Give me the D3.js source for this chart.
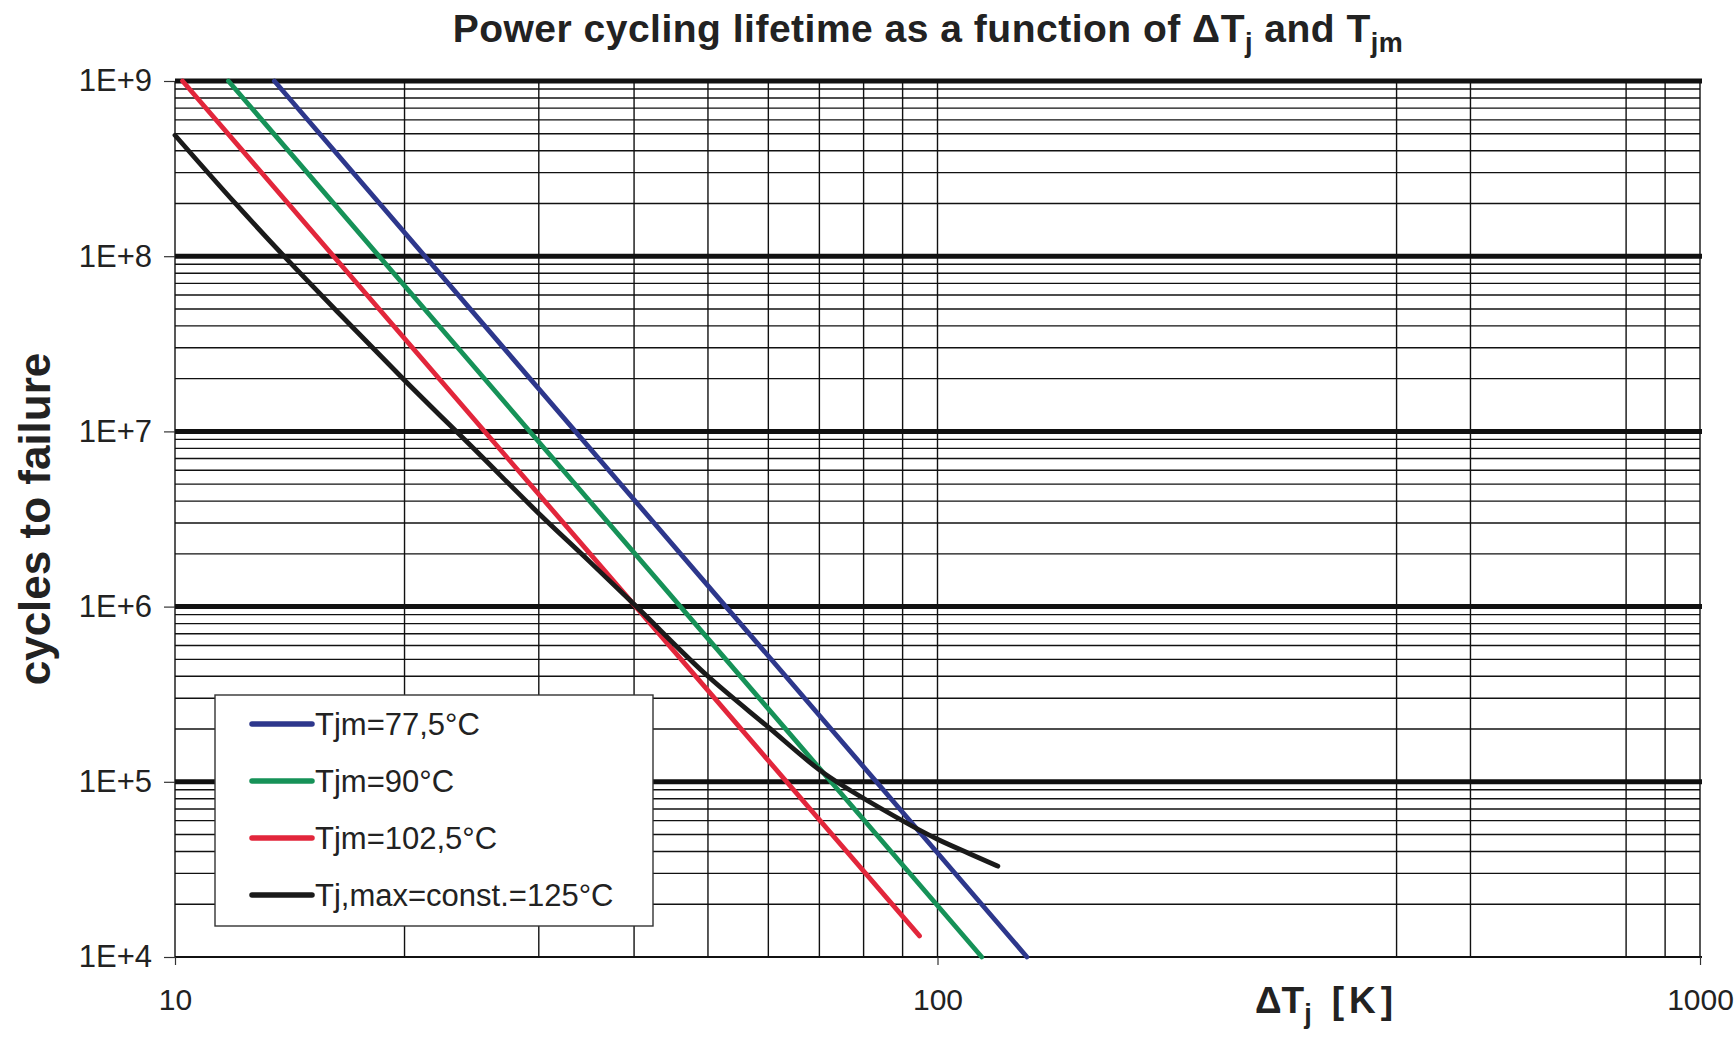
<!DOCTYPE html>
<html>
<head>
<meta charset="utf-8">
<script src="https://cdn.jsdelivr.net/npm/d3@7"></script>
<style>
  body { margin: 0; background: #fff; }
  text { font-family: "Liberation Sans", Arial, sans-serif; fill: #222; }
</style>
</head>
<body>
<svg id="chart" width="1735" height="1046"></svg>
<script>
// ---- data ----
var xTicks = [10, 100, 1000];
var xTickLabels = ["10", "100", "1000"];
var yTicks = [1e4, 1e5, 1e6, 1e7, 1e8, 1e9];
var yTickLabels = ["1E+4", "1E+5", "1E+6", "1E+7", "1E+8", "1E+9"];
// vertical grid lines that appear in the chart
var xGrid = [20, 30, 40, 50, 60, 70, 80, 90, 400, 500, 800, 900];
var yMinorSteps = [2, 3, 4, 5, 6, 7, 8, 9];

var seriesNames = ["Tjm=77,5°C", "Tjm=90°C", "Tjm=102,5°C", "Tj,max=const.=125°C"];
var seriesColors = ["#2d378c", "#169258", "#e2263b", "#1a1a1a"];

var tjm775 = [[13.5, 1e9], [131, 1e4]];
var tjm90 = [[11.75, 1e9], [114.3, 1e4]];
var tjm1025 = [[10.23, 1e9], [94.7, 1.32e4]];
var tjmax125 = [
  [10, 4.9e8], [12, 2.0e8], [13.9, 1e8], [16.5, 4.6e7], [20, 1.96e7],
  [25, 7.5e6], [30, 3.4e6], [35, 1.8e6], [40, 1.03e6], [50, 4.0e5],
  [60, 2.05e5], [70, 1.17e5], [85, 6.9e4], [100, 4.7e4], [110, 3.9e4], [120, 3.3e4]
];
var allSeries = [tjm775, tjm90, tjm1025, tjmax125];

// ---- layout ----
var svg = d3.select("#chart");
var plotL = 175, plotR = 1700, plotT = 81, plotB = 957;

var x = d3.scaleLog().domain([10, 1000]).range([plotL, plotR]);
var y = d3.scaleLog().domain([1e4, 1e9]).range([plotB, plotT]);

var grid = svg.append("g");

// minor horizontal lines
var minorY = [];
yTicks.slice(0, -1).forEach(function(d) {
  yMinorSteps.forEach(function(m) { minorY.push(d * m); });
});
grid.selectAll(".hminor")
  .data(minorY)
  .enter()
  .append("line")
  .attr("x1", plotL).attr("x2", plotR)
  .attr("y1", function(d) { return y(d); })
  .attr("y2", function(d) { return y(d); })
  .attr("stroke", "#111")
  .attr("stroke-width", 1.4);

// vertical lines
grid.selectAll(".vline")
  .data(xGrid.concat([10, 100, 1000]))
  .enter()
  .append("line")
  .attr("x1", function(d) { return x(d); })
  .attr("x2", function(d) { return x(d); })
  .attr("y1", plotT).attr("y2", plotB)
  .attr("stroke", "#111")
  .attr("stroke-width", 1.4);

// major decade lines (bottom one thinner)
grid.selectAll(".hmajor")
  .data(yTicks)
  .enter()
  .append("line")
  .attr("x1", plotL).attr("x2", plotR + 2)
  .attr("y1", function(d) { return y(d); })
  .attr("y2", function(d) { return y(d); })
  .attr("stroke", "#111")
  .attr("stroke-width", function(d) { return d === 1e4 ? 2.2 : 5; });

// axes
var yAxis = d3.axisLeft(y)
  .tickValues(yTicks)
  .tickFormat(function(d, i) { return yTickLabels[i]; })
  .tickSize(11)
  .tickPadding(12);
var gy = svg.append("g").attr("transform", "translate(" + plotL + ",0)").call(yAxis);
gy.select(".domain").remove();
gy.selectAll("line").attr("stroke", "#333").attr("stroke-width", 1.2);
gy.selectAll("text").style("font-size", "31px").attr("fill", "#222")
  .attr("font-family", "Liberation Sans, Arial, sans-serif");

var xAxis = d3.axisBottom(x)
  .tickValues(xTicks)
  .tickFormat(function(d, i) { return xTickLabels[i]; })
  .tickSize(8)
  .tickPadding(24);
var gx = svg.append("g").attr("transform", "translate(0," + plotB + ")").call(xAxis);
gx.select(".domain").remove();
gx.selectAll("line").attr("stroke", "#333").attr("stroke-width", 1.2);
gx.selectAll("text").style("font-size", "30px").attr("fill", "#222")
  .attr("font-family", "Liberation Sans, Arial, sans-serif");

// curves
var toLine = d3.line()
  .x(function(d) { return x(d[0]); })
  .y(function(d) { return y(d[1]); })
  .curve(d3.curveMonotoneX);

svg.append("g")
  .selectAll("path")
  .data(allSeries)
  .enter()
  .append("path")
  .attr("d", toLine)
  .attr("fill", "none")
  .attr("stroke", function(d, i) { return seriesColors[i]; })
  .attr("stroke-width", 4.8)
  .attr("stroke-linecap", "round");

// legend
var legend = svg.append("g");
legend.append("rect")
  .attr("x", 215).attr("y", 695)
  .attr("width", 438).attr("height", 231)
  .attr("fill", "#fff")
  .attr("stroke", "#333")
  .attr("stroke-width", 1.4);

var rows = legend.selectAll(".row")
  .data(seriesNames)
  .enter()
  .append("g")
  .attr("transform", function(d, i) { return "translate(0," + (724 + i * 57) + ")"; });
rows.append("line")
  .attr("x1", 252).attr("x2", 312)
  .attr("stroke", function(d, i) { return seriesColors[i]; })
  .attr("stroke-width", 5.5)
  .attr("stroke-linecap", "round");
rows.append("text")
  .attr("x", 315)
  .attr("dy", "0.36em")
  .style("font-size", "31px")
  .text(function(d) { return d; });

// title
var title = svg.append("text")
  .attr("x", 928).attr("y", 42)
  .attr("text-anchor", "middle")
  .style("font-size", "39px")
  .style("font-weight", "bold")
  .style("letter-spacing", "0.5px");
title.append("tspan").text("Power cycling lifetime as a function of ΔT");
title.append("tspan").attr("dy", 10).style("font-size", "27px").text("j");
title.append("tspan").attr("dy", -10).text(" and T");
title.append("tspan").attr("dy", 10).style("font-size", "27px").text("jm");

// axis titles
var xt = svg.append("text")
  .attr("x", 1255).attr("y", 1013)
  .style("font-size", "37px")
  .style("font-weight", "bold");
xt.append("tspan").text("ΔT");
xt.append("tspan").attr("dy", 10).style("font-size", "27px").text("j");
xt.append("tspan").attr("dy", -10).attr("dx", 20).style("letter-spacing", "5px").text("[K]");

svg.append("text")
  .attr("transform", "translate(50,519) rotate(-90)")
  .attr("text-anchor", "middle")
  .style("font-size", "44px")
  .style("font-weight", "bold")
  .text("cycles to failure");
</script>
</body>
</html>
